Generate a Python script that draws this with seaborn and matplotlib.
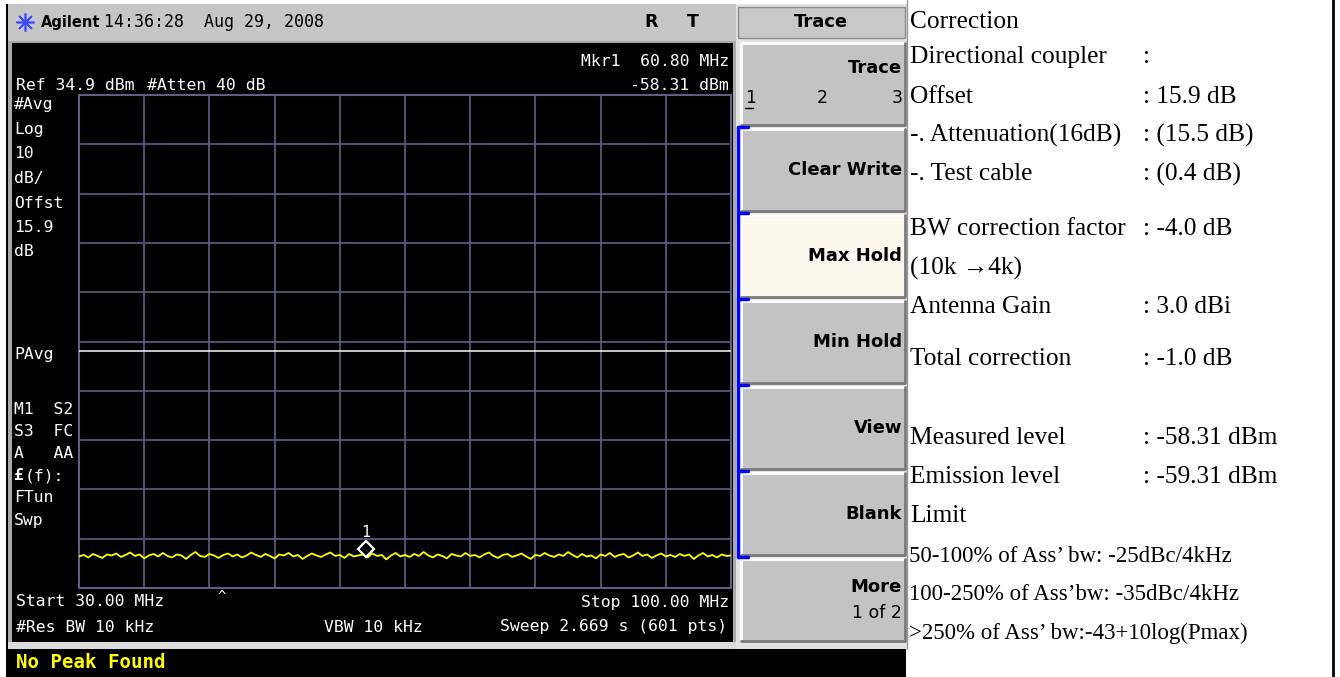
import numpy as np
import pandas as pd
import matplotlib
matplotlib.use("Agg")
import matplotlib.pyplot as plt
import matplotlib.transforms as mtransforms
from matplotlib.patches import Rectangle
import seaborn as sns

# ---------------- data ----------------
start_mhz = 30.0
stop_mhz = 100.0
ref_level_dbm = 34.9
db_per_div = 10
n_div = 10
display_line_dbm = -17.0
marker_freq_mhz = 60.80
marker_level_dbm = -58.31

trace_dbm = [
    -58.7, -58.4, -58.9, -58.2, -58.6, -59.0, -58.3, -58.5, -58.1, -58.8,
    -58.4, -57.9, -58.6, -58.3, -59.1, -58.5, -58.2, -58.7, -58.0, -58.6,
    -58.9, -58.3, -58.5, -59.2, -58.4, -57.8, -58.6, -58.8, -58.2, -58.5,
    -59.0, -58.4, -58.1, -58.7, -58.3, -58.9, -58.5, -57.9, -58.4, -58.8,
    -58.2, -58.6, -59.1, -58.3, -58.5, -58.0, -58.7, -58.4, -59.2, -58.6,
    -58.1, -58.5, -58.8, -58.3, -57.9, -58.6, -58.4, -59.0, -58.2, -58.7,
    -58.5, -58.3, -58.9, -58.1, -58.6, -58.4, -59.3, -58.5, -58.0, -58.7,
    -58.4, -58.8, -58.2, -58.6, -57.8, -58.5, -58.9, -58.3, -58.6, -59.1,
    -58.2, -58.5, -58.7, -58.0, -58.6, -58.4, -58.9, -58.3, -57.9, -58.6,
    -59.0, -58.4, -58.2, -58.8, -58.5, -58.1, -58.7, -59.2, -58.4, -58.6,
    -58.0, -58.5, -58.8, -58.3, -58.6, -57.8, -58.4, -58.9, -58.2, -58.7,
    -58.5, -59.1, -58.3, -58.6, -58.0, -58.8, -58.4, -58.2, -58.9, -58.5,
    -57.9, -58.6, -58.3, -59.0, -58.5, -58.1, -58.7, -58.4, -58.8, -58.2,
    -58.6, -58.3, -59.2, -58.5, -58.0, -58.7, -58.4, -58.9, -58.3, -58.6,
    -58.5,
]

title_time = "14:36:28  Aug 29, 2008"
header_texts = ["Ref 34.9 dBm", "#Atten 40 dB", "Mkr1  60.80 MHz", "-58.31 dBm"]
side_top = ["#Avg", "Log", "10", "dB/", "Offst", "15.9", "dB"]
side_mid = ["PAvg"]
side_low = ["M1  S2", "S3  FC", "A   AA", "(f):", "FTun", "Swp"]
footer_texts = ["Start 30.00 MHz", "Stop 100.00 MHz", "#Res BW 10 kHz", "VBW 10 kHz",
                "Sweep 2.669 s (601 pts)"]
status_text = "No Peak Found"
softkey_title = "Trace"
softkeys = ["Trace", "Clear Write", "Max Hold", "Min Hold", "View", "Blank", "More"]

corr_labels = ["Correction", "Directional coupler", "Offset", "-. Attenuation(16dB)",
               "-. Test cable", "BW correction factor", "(10k \u21924k)", "Antenna Gain",
               "Total correction", "Measured level", "Emission level", "Limit"]
corr_values = ["", ":", ": 15.9 dB", ": (15.5 dB)", ": (0.4 dB)", ": -4.0 dB", "",
               ": 3.0 dBi", ": -1.0 dB", ": -58.31 dBm", ": -59.31 dBm", ""]
limit_lines = ["50-100% of Ass\u2019 bw: -25dBc/4kHz",
               "100-250% of Ass\u2019bw: -35dBc/4kHz",
               ">250% of Ass\u2019 bw:-43+10log(Pmax)"]

# ---------------- figure ----------------
sns.set_theme(style="white")
W, H = 1340, 677
fig = plt.figure(figsize=(W / 100, H / 100), dpi=100, facecolor="white")

bg = fig.add_axes([0, 0, 1, 1], zorder=0)
bg.set_xlim(0, W)
bg.set_ylim(H, 0)
bg.axis("off")

MONO = "DejaVu Sans Mono"
SANS = "DejaVu Sans"
SERIF = ["Liberation Serif", "DejaVu Serif"]
MS = 11.8


def rect(x0, y0, x1, y1, fc, ec="none", lw=0, z=1):
    bg.add_patch(Rectangle((x0, y0), x1 - x0, y1 - y0, fc=fc, ec=ec, lw=lw, zorder=z))


def txt(x, y, s, size=MS, color="white", ha="left", family=MONO, weight="normal", z=5):
    bg.text(x, y, s, fontsize=size, color=color, ha=ha, va="center", family=family,
            fontweight=weight, zorder=z)


# instrument frame
rect(6, 4, 8, H, "black")
rect(8, 4, 736, 41, "#c6c6c6")
rect(8, 41, 736, 649, "#a9a9a9")
rect(12, 43, 733, 642, "black")
rect(8, 642, 736, 649, "#dcdcdc")
rect(8, 649, 906, H, "black")
rect(736, 4, 907, 649, "#e2e2e2")
bg.plot([1333, 1333], [0, H], color="black", lw=2, zorder=3)
bg.plot([907, 907], [0, 649], color="#9a9a9a", lw=1, zorder=3)

# title bar
bg.plot(25, 22, marker=(8, 2, 0), color="#3a4cff", ms=13, mew=1.2, zorder=5)
txt(41, 22, "Agilent", size=10.5, color="black", family=SANS, weight="bold")
txt(104, 22, title_time, size=12, color="black")
txt(651, 22, "R", size=12.5, color="black", family=SANS, weight="bold", ha="center")
txt(693, 22, "T", size=12.5, color="black", family=SANS, weight="bold", ha="center")

# header
txt(16, 86, header_texts[0])
txt(147, 86, header_texts[1])
txt(729, 62, header_texts[2], ha="right")
txt(729, 86, header_texts[3], ha="right")

# side annotations
for i, s in enumerate(side_top):
    txt(14, 105 + i * 24.5, s)
txt(14, 355, side_mid[0])
for i, s in enumerate(side_low):
    y = 410 + i * 22
    if s == "(f):":
        txt(14, y, "\u00a3", weight="bold")
        txt(25, y, s)
    else:
        txt(14, y, s)

# footer
txt(16, 602, footer_texts[0])
txt(218, 597, "^", size=10)
txt(729, 602, footer_texts[1], ha="right")
txt(16, 627, footer_texts[2])
txt(373, 627, footer_texts[3], ha="center")
txt(727, 627, footer_texts[4], ha="right")
txt(16, 662, status_text, size=13.7, color="#ffff00", weight="bold")

# softkey panel
rect(738, 7, 905, 38, "#c8c8c8", ec="#8c8c8c", lw=1)
txt(821, 22, softkey_title, size=13, color="black", family=SANS, weight="bold", ha="center")
btn_tops = [43, 129, 215, 301, 387, 473, 559]
btn_h = 82
for i, (yt, lab) in enumerate(zip(btn_tops, softkeys)):
    face = "#fdf8ee" if lab == "Max Hold" else "#c3c3c3"
    x0, x1 = 741, 905
    rect(x0, yt, x1, yt + btn_h, face)
    bg.plot([x0, x0, x1], [yt + btn_h, yt, yt], color="white", lw=2, zorder=2)
    bg.plot([x0, x1, x1], [yt + btn_h, yt + btn_h, yt], color="#7a7a7a", lw=2, zorder=2)
    cy = yt + btn_h / 2
    if lab == "Trace":
        txt(902, yt + 25, lab, size=13, color="black", family=SANS, weight="bold", ha="right")
        txt(745, yt + 55, "1", size=12.5, color="black", family=SANS)
        bg.plot([745, 753], [yt + 65, yt + 65], color="black", lw=1, zorder=5)
        txt(822, yt + 55, "2", size=12.5, color="black", ha="center", family=SANS)
        txt(903, yt + 55, "3", size=12.5, color="black", ha="right", family=SANS)
    elif lab == "More":
        txt(902, yt + 28, lab, size=13, color="black", family=SANS, weight="bold", ha="right")
        txt(902, yt + 54, "1 of 2", size=12.5, color="black", ha="right", family=SANS)
    else:
        txt(902, cy, lab, size=13, color="black", family=SANS, weight="bold", ha="right")

# blue bracket
bg.plot([738, 738], [127, 557], color="#0000ff", lw=2.5, zorder=4)
for yb in [127, 213, 299, 385, 471, 557]:
    bg.plot([738, 748], [yb, yb], color="#0000ff", lw=2.5, zorder=4)

# correction text panel
row_y = [22, 57, 97, 135, 174, 229, 268, 307, 359, 438, 477, 516]
for y, lab, val in zip(row_y, corr_labels, corr_values):
    bg.text(910, y, lab, fontsize=18.3, color="black", ha="left", va="center", family=SERIF)
    if val:
        bg.text(1143, y, val, fontsize=18.3, color="black", ha="left", va="center", family=SERIF)
for y, s in zip([556, 594, 633], limit_lines):
    bg.text(909, y, s, fontsize=16.5, color="black", ha="left", va="center", family=SERIF)

# ---------------- spectrum display ----------------
gx0, gx1, gy0, gy1 = 79, 731, 95, 588
ax = fig.add_axes([gx0 / W, (H - gy1) / H, (gx1 - gx0) / W, (gy1 - gy0) / H], zorder=2)
ax.set_facecolor("black")
bottom_dbm = ref_level_dbm - db_per_div * n_div
ax.set_xlim(start_mhz, stop_mhz)
ax.set_ylim(bottom_dbm, ref_level_dbm)
ax.set_xticks(np.linspace(start_mhz, stop_mhz, n_div + 1))
ax.set_yticks(np.linspace(bottom_dbm, ref_level_dbm, n_div + 1))
ax.tick_params(length=0, labelbottom=False, labelleft=False)
ax.grid(True, color="#5f5f86", lw=1.2)
for sp in ax.spines.values():
    sp.set_color("#5f5f86")
    sp.set_linewidth(1.5)

df = pd.DataFrame({"freq": np.linspace(start_mhz, stop_mhz, len(trace_dbm)), "level": trace_dbm})
sns.lineplot(data=df, x="freq", y="level", ax=ax, color="#ffff00", lw=1.3, zorder=3)
ax.axhline(display_line_dbm, color="#e8e8e8", lw=1.2, zorder=3)

up = mtransforms.offset_copy(ax.transData, fig=fig, x=0, y=4, units="points")
ax.plot([marker_freq_mhz], [marker_level_dbm], marker="D", ms=8, mfc="black", mec="white",
        mew=1.6, transform=up, zorder=5, clip_on=False)
up2 = mtransforms.offset_copy(ax.transData, fig=fig, x=0, y=16, units="points")
ax.text(marker_freq_mhz, marker_level_dbm, "1", color="white", fontsize=11, family=MONO,
        ha="center", va="center", transform=up2, zorder=5)
ax.set_xlabel("")
ax.set_ylabel("")

fig.savefig("out.png", dpi=100, facecolor="white")
